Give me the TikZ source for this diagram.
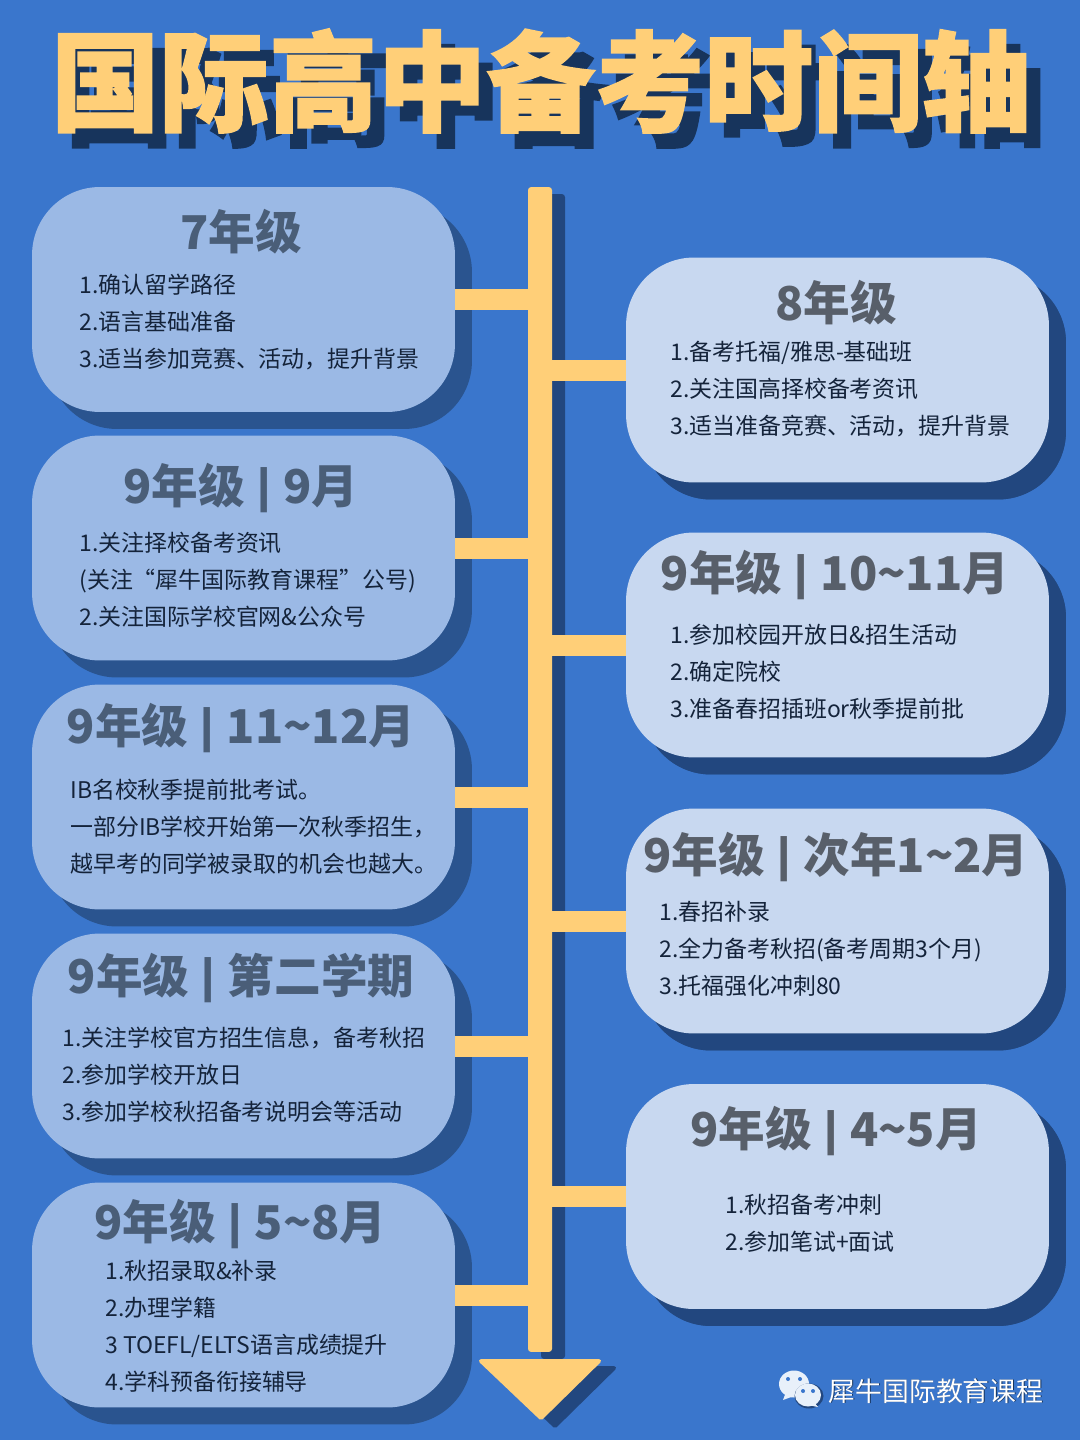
\documentclass[tikz,border=0pt]{standalone}
\usepackage{fontspec}
\setmainfont{Noto Sans CJK SC}
\newfontfamily\titlefont[BoldFeatures={FakeBold=1.4}]{Noto Sans CJK SC}
\usetikzlibrary{shadows}
\definecolor{pagebg}{HTML}{3A76CC}
\definecolor{leftfill}{HTML}{9BB9E5}
\definecolor{rightfill}{HTML}{C8D8F0}
\definecolor{leftshade}{HTML}{2A548F}
\definecolor{rightshade}{HTML}{22477F}
\definecolor{barcol}{HTML}{FFCF78}
\definecolor{titleshade}{HTML}{17345C}
\definecolor{headcol}{HTML}{4A5E78}
\definecolor{headcolr}{HTML}{585F6A}
\definecolor{bodycol}{HTML}{14233A}
\definecolor{iconcol}{HTML}{E8F0FA}
\newcommand{\headbar}{\raisebox{1.5pt}{\scalebox{1.2}[.85]{|}}}
\tikzset{
  leftbox/.style={fill=leftfill,rounded corners=1.36cm,minimum width=8.46cm,minimum height=4.5cm,inner sep=0pt,
    general shadow={fill=leftshade,shadow xshift=.34cm,shadow yshift=-.34cm}},
  rightbox/.style={leftbox,fill=rightfill,
    general shadow={fill=rightshade,shadow xshift=.34cm,shadow yshift=-.34cm}},
  headtxt/.style={text=headcol,font=\fontsize{26.5}{30}\selectfont\bfseries,inner sep=0pt},
  headtxtr/.style={headtxt,text=headcolr},
  bodytxt/.style={text=bodycol,font=\fontsize{13.05}{21.06}\selectfont,align=left,anchor=west,inner sep=0pt},
  titletxt/.style={font=\fontsize{62}{70}\selectfont\titlefont\bfseries,inner sep=0pt},
  branch/.style={barcol,line width=.42cm},
  spinebar/.style={fill=barcol,rounded corners=.06cm,minimum width=.48cm,minimum height=23.3cm,inner sep=0pt,
    general shadow={fill=rightshade,shadow xshift=.26cm,shadow yshift=-.14cm}}
}
\begin{document}
\begin{tikzpicture}[x=.02cm,y=-.02cm]
    \fill[pagebg] (0,0) rectangle (1080,1440);
    % Title
    \node[titletxt,text=titleshade] (titleback) at (555,96) {国际高中备考时间轴};
    \node[titletxt,text=barcol] (title) at (541,81) {国际高中备考时间轴};
    % Timeline
    \node[spinebar] (spine) at (540,769.5) {};
    \filldraw[rightshade,line join=round,line width=.08cm] (494,1368) -- (614,1368) -- (555,1426) -- cycle;
    \node[leftbox] (grade7) at (243.5,299.5) {};
    \node[leftbox] (sept) at (243.5,548) {};
    \node[leftbox] (novdec) at (243.5,797) {};
    \node[leftbox] (term2) at (243.5,1046) {};
    \node[leftbox] (mayaug) at (243.5,1295) {};
    \node[rightbox] (grade8) at (837.5,370) {};
    \node[rightbox] (octnov) at (837.5,645) {};
    \node[rightbox] (janfeb) at (837.5,921) {};
    \node[rightbox] (aprmay) at (837.5,1196.5) {};
    \foreach \b in {grade7,sept,novdec,term2,mayaug}
    \draw[branch] (\b.east) -- (\b.east -| spine.center);
    \foreach \b in {grade8,octnov,janfeb,aprmay}
    \draw[branch] (\b.west) -- (\b.west -| spine.center);
    \filldraw[barcol,line join=round,line width=.08cm] (481,1361) -- (599,1361) -- (541,1418) -- cycle;
    % Left column
    \node[headtxt] (grade7head) at (241,232) {7年级};
    \node[bodytxt] (grade7body) at (79,322) {1.确认留学路径\\2.语言基础准备\\3.适当参加竞赛、活动，提升背景};
    \node[headtxt] (septhead) at (241,488) {9年级 \headbar{} 9月};
    \node[bodytxt] (septbody) at (79,580) {1.关注择校备考资讯\\(关注“犀牛国际教育课程”公号)\\2.关注国际学校官网\&公众号};
    \node[headtxt] (novdechead) at (241,728) {9年级 \headbar{} 11\textasciitilde12月};
    \node[bodytxt] (novdecbody) at (70,827) {IB名校秋季提前批考试。\\一部分IB学校开始第一次秋季招生，\\越早考的同学被录取的机会也越大。};
    \node[headtxt] (term2head) at (241,978) {9年级 \headbar{} 第二学期};
    \node[bodytxt] (term2body) at (62,1075) {1.关注学校官方招生信息，备考秋招\\2.参加学校开放日\\3.参加学校秋招备考说明会等活动};
    \node[headtxt] (mayaughead) at (240.5,1224) {9年级 \headbar{} 5\textasciitilde8月};
    \node[bodytxt] (mayaugbody) at (105,1326.5) {1.秋招录取\&补录\\2.办理学籍\\3 TOEFL/ELTS语言成绩提升\\4.学科预备衔接辅导};
    % Right column
    \node[headtxtr] (grade8head) at (836,303) {8年级};
    \node[bodytxt] (grade8body) at (670,389) {1.备考托福/雅思-基础班\\2.关注国高择校备考资讯\\3.适当准备竞赛、活动，提升背景};
    \node[headtxtr] (octnovhead) at (835,575) {9年级 \headbar{} 10\textasciitilde11月};
    \node[bodytxt] (octnovbody) at (670,672) {1.参加校园开放日\&招生活动\\2.确定院校\\3.准备春招插班or秋季提前批};
    \node[headtxtr] (janfebhead) at (836,857) {9年级 \headbar{} 次年1\textasciitilde2月};
    \node[bodytxt] (janfebbody) at (659,949) {1.春招补录\\2.全力备考秋招(备考周期3个月)\\3.托福强化冲刺80};
    \node[headtxtr] (aprmayhead) at (836,1131) {9年级 \headbar{} 4\textasciitilde5月};
    \node[bodytxt] (aprmaybody) at (725,1223.5) {1.秋招备考冲刺\\2.参加笔试+面试};
    % Footer
    \fill[iconcol] (794,1384) ellipse (15 and 13.5);
    \fill[iconcol] (786,1392) -- (783,1400) -- (794,1396) -- cycle;
    \fill[rightshade] (809,1396) ellipse (14.5 and 12.5);
    \fill[iconcol] (808,1395) ellipse (13 and 11.5);
    \fill[iconcol] (814,1402) -- (818,1407) -- (808,1405) -- cycle;
    \foreach \e in {(788,1379),(800,1379),(803,1391),(813,1391)}
    \fill[pagebg] \e circle (2);
    \node[text=titleshade,font=\fontsize{15.3}{18}\selectfont,inner sep=0pt] (brandback) at (936.7,1391.7) {犀牛国际教育课程};
    \node[text=white,font=\fontsize{15.3}{18}\selectfont,inner sep=0pt] (brand) at (936,1391) {犀牛国际教育课程};
\end{tikzpicture}
\end{document}
